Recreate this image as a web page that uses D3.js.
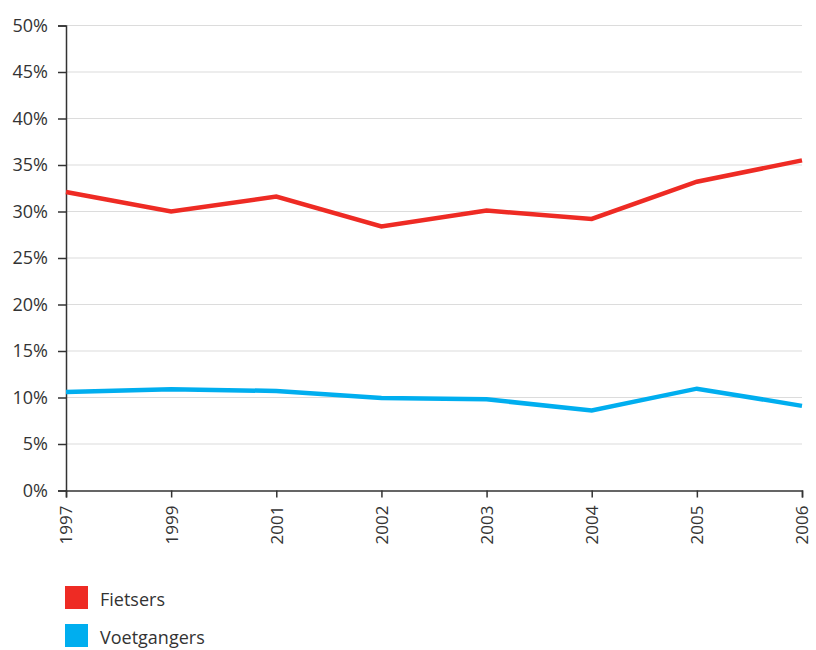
<!DOCTYPE html>
<html><head><meta charset="utf-8">
<script src="https://cdn.jsdelivr.net/npm/d3@7/dist/d3.min.js"></script>
<style>body{margin:0;background:#fff;} text{font-family:"Open Sans",Lato,sans-serif;fill:#333;}</style>
</head><body>
<svg id="c" width="816" height="650"></svg>
<script>
const years = ["1997","1999","2001","2002","2003","2004","2005","2006"];
const fietsers = [32.1, 30.0, 31.6, 28.4, 30.1, 29.2, 33.2, 35.5];
const voetgangers = [10.6, 10.9, 10.7, 9.95, 9.8, 8.6, 10.95, 9.1];
const yTicks = [0,5,10,15,20,25,30,35,40,45,50];
const seriesNames = ["Fietsers","Voetgangers"];
const colors = ["#ee2b24","#00aeef"];

const svg = d3.select("#c");
const x = d3.scalePoint().domain(years).range([66, 802]);
const y = d3.scaleLinear().domain([0,50]).range([490.5, 25.5]);

// grid
svg.append("g").selectAll("line").data(yTicks.filter(d=>d>0)).join("line")
  .attr("x1",66).attr("x2",802).attr("y1",d=>y(d)).attr("y2",d=>y(d))
  .attr("stroke","#dcdcdc").attr("stroke-width",1.2);

// y axis
const ya = svg.append("g").attr("transform","translate(66,0)")
  .call(d3.axisLeft(y).tickValues(yTicks).tickFormat(d=>d+"%").tickSize(8).tickPadding(10));
ya.select(".domain").attr("stroke","#333").attr("stroke-width",1.5);
ya.selectAll(".tick line").attr("stroke","#333").attr("stroke-width",1.5);
ya.selectAll("text").attr("font-size",18).attr("fill","#333").style("font-family","'Open Sans',sans-serif");

// x axis
const xa = svg.append("g").attr("transform","translate(0,490.5)")
  .call(d3.axisBottom(x).tickSize(7).tickPadding(8));
xa.select(".domain").attr("stroke","#333").attr("stroke-width",1.5);
xa.selectAll(".tick line").attr("stroke","#333").attr("stroke-width",1.5);
xa.selectAll("text").attr("font-size",17).attr("fill","#333")
  .style("font-family","'Open Sans',sans-serif")
  .attr("transform","rotate(-90)").attr("text-anchor","end")
  .attr("x",-15).attr("y",0).attr("dy","0.35em");

// lines
const line = d3.line().x((d,i)=>x(years[i])).y(d=>y(d));
[fietsers, voetgangers].forEach((s,i)=>{
  svg.append("path").datum(s).attr("d",line).attr("fill","none")
    .attr("stroke",colors[i]).attr("stroke-width",4.5).attr("stroke-linejoin","miter");
});

// legend
const lg = svg.append("g");
seriesNames.forEach((n,i)=>{
  lg.append("rect").attr("x",65).attr("y",586+i*38).attr("width",23).attr("height",23).attr("fill",colors[i]);
  lg.append("text").attr("x",100).attr("y",606+i*38).attr("font-size",18).attr("fill","#333").text(n);
});
</script>
</body></html>
